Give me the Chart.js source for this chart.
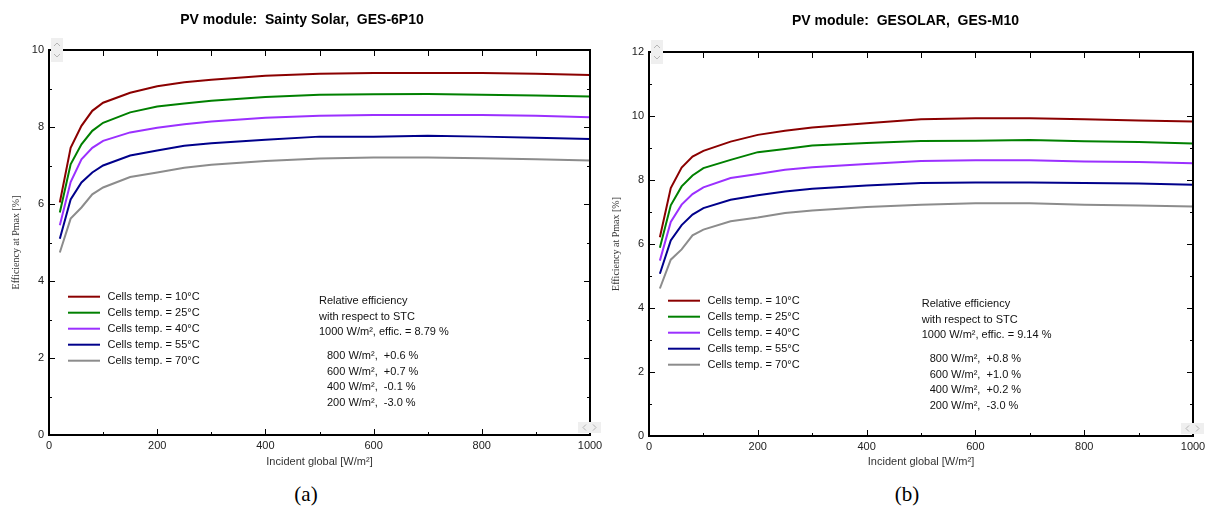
<!DOCTYPE html>
<html>
<head>
<meta charset="utf-8">
<script src="https://cdn.jsdelivr.net/npm/chart.js@4.4.1/dist/chart.umd.min.js"></script>
<style>
  body { margin: 0; background: #fff; width: 1207px; height: 515px; position: relative; overflow: hidden; }
  canvas { position: absolute; top: 0; }
  #chartA { left: 0; }
  #chartB { left: 600px; }
  .tag { position: absolute; top: 482px; width: 60px; text-align: center;
         font-family: "Liberation Serif", "DejaVu Serif", serif; font-size: 21px; color: #000; }
</style>
</head>
<body>
<canvas id="chartA" width="620" height="475"></canvas>
<canvas id="chartB" width="615" height="475"></canvas>
<div class="tag" style="left:276px">(a)</div>
<div class="tag" style="left:877px">(b)</div>
<script>
// Irradiance points [W/m²] shared by every curve
const irradiance = [20, 40, 60, 80, 100, 150, 200, 250, 300, 400, 500, 600, 700, 800, 900, 1000];
const tempLabels = ["Cells temp. = 10°C", "Cells temp. = 25°C", "Cells temp. = 40°C", "Cells temp. = 55°C", "Cells temp. = 70°C"];
const seriesColors = ["#8b0000", "#008000", "#9b30ff", "#00008b", "#8c8c8c"];
const xTickValues = [0, 200, 400, 600, 800, 1000];
const yTicksA = [0, 2, 4, 6, 8, 10];
const yTicksB = [0, 2, 4, 6, 8, 10, 12];

// Sainty Solar GES-6P10, efficiency at Pmax [%]
const effA10 = [6.04, 7.46, 8.03, 8.42, 8.63, 8.89, 9.06, 9.16, 9.23, 9.33, 9.38, 9.40, 9.40, 9.40, 9.38, 9.35];
const effA25 = [5.78, 7.03, 7.55, 7.90, 8.11, 8.38, 8.53, 8.61, 8.68, 8.78, 8.84, 8.85, 8.86, 8.84, 8.82, 8.79];
const effA40 = [5.45, 6.57, 7.16, 7.46, 7.64, 7.86, 7.98, 8.07, 8.14, 8.24, 8.29, 8.31, 8.31, 8.31, 8.29, 8.25];
const effA55 = [5.10, 6.12, 6.56, 6.82, 7.00, 7.26, 7.39, 7.51, 7.58, 7.67, 7.75, 7.75, 7.77, 7.75, 7.72, 7.69];
const effA70 = [4.74, 5.62, 5.91, 6.25, 6.43, 6.70, 6.82, 6.94, 7.02, 7.12, 7.18, 7.21, 7.21, 7.19, 7.16, 7.13];

// GESOLAR GES-M10, efficiency at Pmax [%]
const effB10 = [6.21, 7.75, 8.39, 8.73, 8.91, 9.20, 9.41, 9.54, 9.64, 9.77, 9.90, 9.93, 9.93, 9.90, 9.86, 9.83];
const effB25 = [5.88, 7.21, 7.80, 8.14, 8.37, 8.63, 8.87, 8.97, 9.08, 9.16, 9.22, 9.23, 9.25, 9.21, 9.19, 9.14];
const effB40 = [5.48, 6.69, 7.23, 7.56, 7.77, 8.06, 8.19, 8.32, 8.40, 8.50, 8.59, 8.62, 8.62, 8.58, 8.56, 8.52];
const effB55 = [5.07, 6.11, 6.59, 6.92, 7.12, 7.38, 7.52, 7.64, 7.73, 7.83, 7.91, 7.92, 7.92, 7.91, 7.89, 7.85];
const effB70 = [4.61, 5.51, 5.83, 6.27, 6.45, 6.71, 6.83, 6.97, 7.05, 7.16, 7.23, 7.27, 7.27, 7.23, 7.20, 7.17];

// Relative efficiency with respect to STC
const relIrradiance = [800, 600, 400, 200];
const stcEffA = "8.79";
const relA = ["+0.6", "+0.7", "-0.1", "-3.0"];
const stcEffB = "9.14";
const relB = ["+0.8", "+1.0", "+0.2", "-3.0"];

const sansFont = "Arial, 'Liberation Sans', sans-serif";
const serifFont = "'Liberation Serif', 'DejaVu Serif', serif";

// Frame, inward ticks, scroll buttons, legend and STC notes
const pvDecor = {
  id: "pvDecor",
  afterDraw(chart, args, opts) {
    const { ctx, chartArea: a, scales: { x, y } } = chart;
    ctx.save();

    ctx.strokeStyle = "#000";
    ctx.lineWidth = 1;
    ctx.beginPath();
    for (let v = 100; v < 1000; v += 100) {
      const px = Math.round(x.getPixelForValue(v)) + 0.5;
      const len = v % 200 === 0 ? 6 : 3;
      ctx.moveTo(px, a.bottom); ctx.lineTo(px, a.bottom - len);
      ctx.moveTo(px, a.top); ctx.lineTo(px, a.top + 6);
    }
    for (let v = 1; v < y.max; v++) {
      const py = Math.round(y.getPixelForValue(v)) + 0.5;
      const len = v % 2 === 0 ? 6 : 3;
      ctx.moveTo(a.left, py); ctx.lineTo(a.left + len, py);
      ctx.moveTo(a.right, py); ctx.lineTo(a.right - len, py);
    }
    ctx.stroke();

    ctx.lineWidth = 2;
    ctx.strokeRect(a.left, a.top, a.right - a.left, a.bottom - a.top);

    // little scroll buttons in the corners
    ctx.fillStyle = "#efefef";
    ctx.fillRect(a.left + 2, a.top - 12, 12, 24);
    ctx.fillRect(a.right - 12, a.bottom - 13, 23, 11);
    ctx.strokeStyle = "#b4b4b4";
    ctx.lineWidth = 1;
    ctx.beginPath();
    const cx = a.left + 8;
    ctx.moveTo(cx - 3, a.top - 4); ctx.lineTo(cx, a.top - 7); ctx.lineTo(cx + 3, a.top - 4);
    ctx.moveTo(cx - 3, a.top + 4); ctx.lineTo(cx, a.top + 7); ctx.lineTo(cx + 3, a.top + 4);
    const cy = a.bottom - 7.5;
    ctx.moveTo(a.right - 4, cy - 3); ctx.lineTo(a.right - 7, cy); ctx.lineTo(a.right - 4, cy + 3);
    ctx.moveTo(a.right + 3, cy - 3); ctx.lineTo(a.right + 6, cy); ctx.lineTo(a.right + 3, cy + 3);
    ctx.stroke();

    // legend inside the plot
    ctx.font = "11px " + sansFont;
    ctx.textBaseline = "middle";
    ctx.textAlign = "left";
    chart.data.datasets.forEach((ds, i) => {
      const ly = a.top + opts.legendTop + 16 * i;
      ctx.strokeStyle = ds.borderColor;
      ctx.lineWidth = 2;
      ctx.beginPath();
      ctx.moveTo(a.left + 19, ly); ctx.lineTo(a.left + 51, ly);
      ctx.stroke();
      ctx.fillStyle = "#111";
      ctx.fillText(ds.label, a.left + 58.5, ly);
    });

    // relative efficiency notes
    ctx.fillStyle = "#111";
    const head = ["Relative efficiency", "with respect to STC", "1000 W/m², effic. = " + opts.stcEff + " %"];
    head.forEach((t, i) => ctx.fillText(t, a.left + opts.notesX, a.top + opts.notesTop + 15.5 * i));
    relIrradiance.forEach((g, i) => {
      ctx.fillText(g + " W/m²,  " + opts.rel[i] + " %", a.left + opts.notesX + 8, a.top + opts.notesTop + 55 + 15.7 * i);
    });

    ctx.restore();
  }
};

function buildChart(canvasId, cfg) {
  return new Chart(document.getElementById(canvasId), {
    type: "line",
    data: {
      datasets: cfg.series.map((vals, i) => ({
        label: tempLabels[i],
        data: irradiance.map((g, j) => ({ x: g, y: vals[j] })),
        borderColor: seriesColors[i],
        borderWidth: 2,
        pointRadius: 0,
        tension: 0,
        fill: false
      }))
    },
    options: {
      responsive: false,
      animation: false,
      events: [],
      // left padding shifts the title centre; the y axis width makes up the rest
      layout: { padding: { left: cfg.padLeft, right: cfg.padRight, top: 0, bottom: 0 } },
      plugins: {
        legend: { display: false },
        tooltip: { enabled: false },
        title: {
          display: true,
          text: cfg.title,
          color: "#000",
          font: { family: sansFont, size: 14, weight: "bold" },
          padding: { top: cfg.titleTop, bottom: cfg.titleBottom }
        },
        pvDecor: {
          legendTop: cfg.legendTop,
          notesX: cfg.notesX,
          notesTop: cfg.notesTop,
          stcEff: cfg.stcEff,
          rel: cfg.rel
        }
      },
      scales: {
        x: {
          type: "linear",
          min: 0,
          max: 1000,
          afterBuildTicks: s => { s.ticks = xTickValues.map(v => ({ value: v })); },
          afterFit: s => { s.height = cfg.xHeight; },
          grid: { display: false, drawTicks: false },
          border: { display: false },
          ticks: { padding: 4, color: "#222", font: { family: sansFont, size: 11 }, maxRotation: 0,
                   callback: v => String(v) },
          title: {
            display: true,
            text: "Incident global [W/m²]",
            color: "#333",
            font: { family: sansFont, size: 11 },
            padding: { top: 0, bottom: 6.7 }
          }
        },
        y: {
          min: 0,
          max: cfg.yTicks[cfg.yTicks.length - 1],
          afterBuildTicks: s => { s.ticks = cfg.yTicks.map(v => ({ value: v })); },
          afterFit: s => { s.width = 49 - cfg.padLeft; },
          grid: { display: false, drawTicks: false },
          border: { display: false },
          ticks: { padding: 5, color: "#222", font: { family: sansFont, size: 11 },
                   callback: v => String(v) },
          title: {
            display: true,
            text: "Efficiency at Pmax [%]",
            color: "#333",
            font: { family: serifFont, size: 10 },
            padding: { top: 10 - cfg.padLeft, bottom: 0 }
          }
        }
      }
    },
    plugins: [pvDecor]
  });
}

buildChart("chartA", {
  title: "PV module:  Sainty Solar,  GES-6P10",
  series: [effA10, effA25, effA40, effA55, effA70],
  yTicks: yTicksA,
  padLeft: 14,
  padRight: 30,
  titleTop: 11.5,
  titleBottom: 21.7,
  xHeight: 40,
  legendTop: 246.7,
  notesX: 270,
  notesTop: 251,
  stcEff: stcEffA,
  rel: relA
});

buildChart("chartB", {
  title: "PV module:  GESOLAR,  GES-M10",
  series: [effB10, effB25, effB40, effB55, effB70],
  yTicks: yTicksB,
  padLeft: 18,
  padRight: 22,
  titleTop: 12.6,
  titleBottom: 22.6,
  xHeight: 39,
  legendTop: 248.7,
  notesX: 272.7,
  notesTop: 252,
  stcEff: stcEffB,
  rel: relB
});
</script>
</body>
</html>
